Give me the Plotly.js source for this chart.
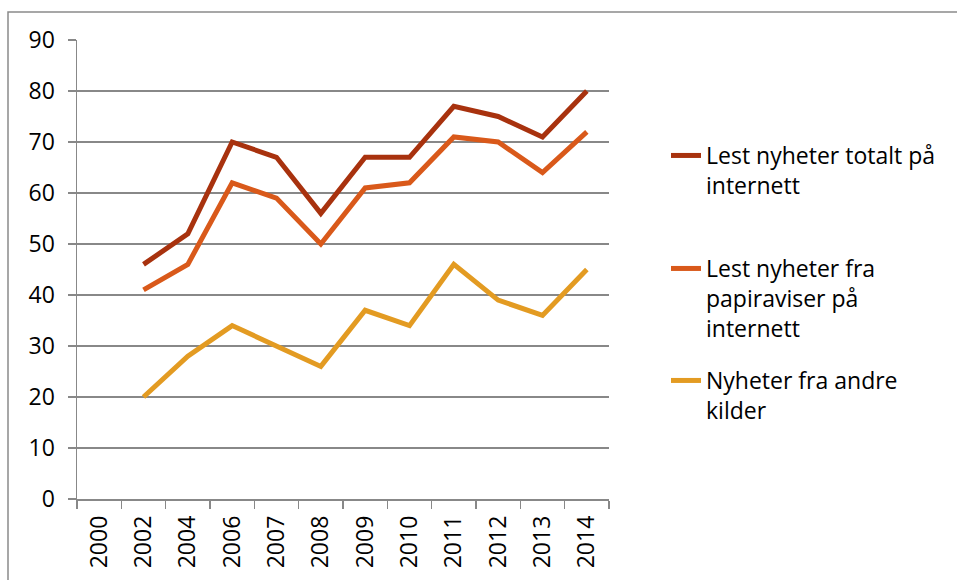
<!DOCTYPE html>
<html>
<head>
<meta charset="utf-8">
<script src="https://cdn.plot.ly/plotly-3.0.1.min.js"></script>
<style>html,body{margin:0;padding:0;background:#fff}#chart{width:957px;height:580px}</style>
</head>
<body>
<div id="chart"></div>
<script>
const years = ["2000","2002","2004","2006","2007","2008","2009","2010","2011","2012","2013","2014"];
const seriesNames = ["Lest nyheter totalt på<br>internett", "Lest nyheter fra<br>papiraviser på<br>internett", "Nyheter fra andre<br>kilder"];
const totalt = [null, 46, 52, 70, 67, 56, 67, 67, 77, 75, 71, 80];
const papiraviser = [null, 41, 46, 62, 59, 50, 61, 62, 71, 70, 64, 72];
const andre = [null, 20, 28, 34, 30, 26, 37, 34, 46, 39, 36, 45];
const colors = ["#A8320E", "#D9591A", "#E39B22"];
const yTicks = [0,10,20,30,40,50,60,70,80,90];

const FONT = "Open Sans, Noto Sans, sans-serif";
const FS = 23;
const values = [totalt, papiraviser, andre];
const legendIds = ["legend", "legend2", "legend3"];
const traces = values.map((v, i) => ({
  type: "scatter", mode: "lines", x: years, y: v, name: seriesNames[i],
  line: {color: colors[i], width: 5}, connectgaps: false,
  legend: legendIds[i], hoverinfo: "x+y"
}));

const L = 77, R = 609, T = 40, B = 499;
const W = R - L, H = B - T;
const px2x = p => (p - L) / W;
const px2y = p => (B - p) / H;

function legendAt(topPx) {
  return {x: px2x(666), xanchor: "left", y: px2y(topPx), yanchor: "top",
    valign: "top", bgcolor: "rgba(0,0,0,0)", borderwidth: 0,
    font: {family: FONT, size: FS, color: "#000"}};
}

const layout = {
  width: 957, height: 580,
  margin: {l: L, r: 957 - R, t: T, b: 580 - B},
  paper_bgcolor: "#fff", plot_bgcolor: "#fff",
  font: {family: FONT, size: FS, color: "#000"},
  showlegend: true,
  legend: legendAt(134),
  legend2: legendAt(247),
  legend3: legendAt(359),
  xaxis: {
    type: "category", categoryorder: "array", categoryarray: years,
    range: [-0.5, years.length - 0.5], tickangle: -90,
    tickson: "boundaries", ticks: "outside", ticklen: 8, tickwidth: 1.5, tickcolor: "#888",
    showline: true, linecolor: "#888", linewidth: 1.5, showgrid: false, zeroline: false,
    ticklabelstandoff: 6,
    tickfont: {family: FONT, size: FS, color: "#000"}, fixedrange: true
  },
  yaxis: {
    range: [0, 90], tickvals: yTicks, ticktext: yTicks.map(String),
    ticks: "outside", ticklen: 8, tickwidth: 1.5, tickcolor: "#888",
    showline: true, linecolor: "#888", linewidth: 1.5,
    showgrid: true, gridcolor: "#888", gridwidth: 1.5, zeroline: false,
    ticklabelstandoff: 8,
    tickfont: {family: FONT, size: FS, color: "#000"}, fixedrange: true
  },
  shapes: [{
    type: "rect", xref: "paper", yref: "paper",
    x0: px2x(8), x1: px2x(1000), y0: px2y(700), y1: px2y(12),
    line: {color: "#8a8a8a", width: 1.5}, fillcolor: "rgba(0,0,0,0)", layer: "below"
  }]
};

Plotly.newPlot("chart", traces, layout, {displayModeBar: false, staticPlot: true});
</script>
</body>
</html>
